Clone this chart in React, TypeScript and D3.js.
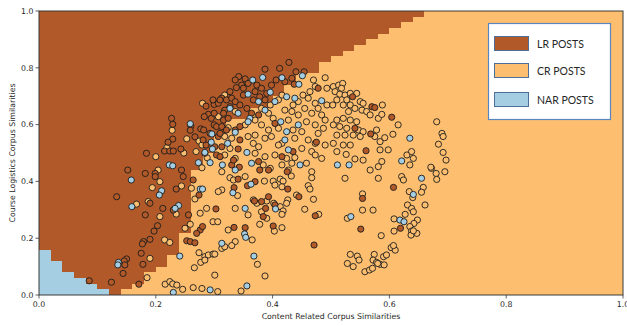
import * as d3 from "d3";

const width = 627;
const height = 326;
const margin = { left: 39, right: 4, top: 11, bottom: 31 };

const xTicks = [0, 0.2, 0.4, 0.6, 0.8, 1.0];
const yTicks = [0, 0.2, 0.4, 0.6, 0.8, 1.0];

const classNames = ["LR POSTS", "CR POSTS", "NAR POSTS"];
const classColors = ["#b15928", "#fdbf6f", "#a6cee3"];

// decision surface, one row every 0.02 on y
const gridStep = 0.02;
const narEdge = [
  0.12, 0.1, 0.08, 0.06, 0.04, 0.04, 0.02, 0.02, 0, 0,
  0, 0, 0, 0, 0, 0, 0, 0, 0, 0,
  0, 0, 0, 0, 0, 0, 0, 0, 0, 0,
  0, 0, 0, 0, 0, 0, 0, 0, 0, 0,
  0, 0, 0, 0, 0, 0, 0, 0, 0, 0,
];
const lrEdge = [
  0.14, 0.16, 0.18, 0.18, 0.2, 0.22, 0.22, 0.24, 0.24, 0.24,
  0.24, 0.26, 0.26, 0.26, 0.26, 0.26, 0.26, 0.26, 0.26, 0.26,
  0.26, 0.26, 0.28, 0.28, 0.28, 0.3, 0.3, 0.3, 0.32, 0.32,
  0.32, 0.36, 0.36, 0.4, 0.4, 0.42, 0.42, 0.44, 0.44, 0.48,
  0.48, 0.5, 0.52, 0.54, 0.56, 0.58, 0.6, 0.62, 0.64, 0.66,
];

const lrPoints: [number, number][] = [
  [0.286,0.665],[0.3,0.671],[0.227,0.622],[0.229,0.601],[0.26,0.596],[0.259,0.58],[0.229,0.549],[0.221,0.538],
  [0.215,0.507],[0.224,0.507],[0.23,0.507],[0.184,0.499],[0.243,0.514],[0.267,0.557],[0.277,0.585],[0.282,0.581],
  [0.286,0.528],[0.199,0.428],[0.182,0.428],[0.152,0.44],[0.244,0.44],[0.29,0.636],[0.295,0.622],[0.3,0.64],
  [0.283,0.628],[0.3,0.599],
  [0.428,0.819],[0.387,0.795],[0.412,0.798],[0.44,0.786],[0.454,0.786],[0.342,0.769],[0.336,0.757],[0.353,0.761],
  [0.358,0.745],[0.373,0.739],[0.347,0.739],[0.338,0.73],[0.406,0.757],[0.421,0.751],[0.437,0.742],[0.478,0.728],
  [0.313,0.693],[0.321,0.687],[0.33,0.693],[0.307,0.675],[0.37,0.716],[0.387,0.687],[0.344,0.669],[0.356,0.657],
  [0.364,0.64],[0.316,0.616],[0.324,0.622],[0.404,0.604],[0.304,0.593],[0.313,0.593],[0.336,0.581],[0.307,0.558],
  [0.344,0.546],[0.475,0.538],[0.313,0.522],[0.341,0.514],[0.435,0.505],[0.304,0.493],[0.416,0.487],[0.33,0.458],
  [0.376,0.47],[0.378,0.44],[0.327,0.716],[0.35,0.704],[0.381,0.728],[0.336,0.681],[0.318,0.651],[0.376,0.634],
  [0.35,0.728],[0.31,0.687],[0.298,0.687],[0.316,0.64],[0.327,0.663],[0.367,0.687],[0.378,0.698],[0.39,0.71],
  [0.398,0.739],[0.433,0.763],[0.31,0.569],[0.293,0.569],[0.321,0.581],[0.344,0.593],[0.281,0.546],[0.301,0.522],
  [0.284,0.499],[0.31,0.487],[0.333,0.475],[0.343,0.45],[0.393,0.44],[0.425,0.434],
  [0.537,0.698],[0.57,0.663],[0.575,0.66],[0.604,0.626],[0.541,0.587],[0.568,0.567],[0.56,0.508],
  [0.133,0.346],[0.235,0.373],[0.247,0.417],[0.199,0.417],[0.264,0.405],[0.274,0.352],[0.19,0.323],[0.212,0.305],
  [0.23,0.299],[0.182,0.282],[0.256,0.282],[0.203,0.244],[0.197,0.225],[0.276,0.229],[0.27,0.217],[0.28,0.241],
  [0.179,0.188],[0.177,0.18],[0.19,0.196],[0.253,0.191],[0.259,0.188],[0.267,0.184],[0.175,0.147],[0.15,0.127],
  [0.146,0.12],[0.147,0.106],[0.178,0.108],[0.144,0.076],[0.124,0.045],[0.171,0.038],[0.086,0.05],
  [0.37,0.399],[0.357,0.385],[0.426,0.373],[0.445,0.346],[0.334,0.378],[0.369,0.331],[0.381,0.329],[0.393,0.346],
  [0.404,0.317],[0.388,0.305],[0.384,0.276],[0.473,0.279],[0.303,0.303],[0.334,0.238],[0.353,0.237],[0.401,0.243],
  [0.471,0.176],[0.341,0.408],
  [0.607,0.379],[0.554,0.34],[0.551,0.232],[0.619,0.235],
];

const crPoints: [number, number][] = [
  [0.28,0.675],[0.228,0.58],[0.219,0.519],[0.2,0.487],[0.248,0.5],[0.253,0.55],[0.274,0.542],[0.279,0.528],
  [0.269,0.505],[0.288,0.483],[0.279,0.448],[0.204,0.44],
  [0.47,0.757],[0.473,0.734],[0.49,0.765],[0.493,0.728],[0.318,0.704],[0.416,0.704],[0.41,0.687],[0.444,0.681],
  [0.461,0.693],[0.473,0.675],[0.493,0.669],[0.455,0.657],[0.336,0.646],[0.381,0.657],[0.393,0.64],[0.421,0.651],
  [0.433,0.646],[0.444,0.634],[0.467,0.64],[0.484,0.634],[0.49,0.616],[0.307,0.628],[0.37,0.616],[0.401,0.622],
  [0.427,0.616],[0.458,0.61],[0.473,0.599],[0.487,0.587],[0.324,0.589],[0.353,0.599],[0.381,0.599],[0.393,0.581],
  [0.41,0.587],[0.435,0.581],[0.45,0.575],[0.478,0.569],[0.318,0.558],[0.33,0.552],[0.358,0.558],[0.37,0.563],
  [0.387,0.552],[0.398,0.558],[0.416,0.534],[0.438,0.552],[0.461,0.546],[0.473,0.534],[0.49,0.528],[0.327,0.516],
  [0.367,0.534],[0.376,0.522],[0.41,0.528],[0.45,0.516],[0.467,0.505],[0.37,0.499],[0.318,0.493],[0.336,0.481],
  [0.387,0.487],[0.404,0.493],[0.424,0.481],[0.438,0.484],[0.473,0.493],[0.484,0.481],[0.384,0.458],[0.416,0.458],
  [0.433,0.464],[0.458,0.464],[0.313,0.434],[0.396,0.446],[0.427,0.44],[0.467,0.434],[0.396,0.669],[0.435,0.669],
  [0.478,0.657],[0.452,0.704],[0.464,0.716],
  [0.504,0.734],[0.513,0.739],[0.52,0.745],[0.518,0.728],[0.507,0.716],[0.515,0.707],[0.524,0.704],[0.533,0.71],
  [0.544,0.71],[0.527,0.687],[0.51,0.687],[0.503,0.669],[0.521,0.669],[0.533,0.669],[0.55,0.681],[0.555,0.675],
  [0.541,0.657],[0.53,0.646],[0.553,0.651],[0.561,0.646],[0.567,0.634],[0.581,0.622],[0.588,0.669],[0.587,0.636],
  [0.51,0.616],[0.521,0.622],[0.533,0.616],[0.544,0.61],[0.504,0.599],[0.515,0.593],[0.527,0.587],[0.547,0.581],
  [0.555,0.575],[0.51,0.563],[0.524,0.563],[0.538,0.563],[0.55,0.558],[0.578,0.581],[0.575,0.558],[0.584,0.54],
  [0.592,0.554],[0.606,0.566],[0.615,0.599],[0.504,0.534],[0.521,0.528],[0.533,0.528],[0.51,0.505],[0.526,0.495],
  [0.541,0.479],[0.555,0.475],[0.584,0.511],[0.598,0.511],[0.587,0.47],[0.567,0.44],[0.581,0.452],[0.63,0.493],
  [0.638,0.505],[0.641,0.481],[0.635,0.458],[0.681,0.61],[0.69,0.569],[0.692,0.558],[0.684,0.531],[0.692,0.502],
  [0.697,0.475],[0.672,0.446],[0.695,0.434],[0.671,0.45],[0.68,0.428],
  [0.194,0.378],[0.244,0.384],[0.207,0.399],[0.261,0.376],[0.267,0.338],[0.167,0.32],[0.187,0.329],[0.235,0.285],
  [0.207,0.276],[0.25,0.235],[0.259,0.249],[0.276,0.288],[0.287,0.305],[0.298,0.258],[0.215,0.194],[0.224,0.185],
  [0.19,0.129],[0.185,0.061],[0.216,0.038],[0.224,0.047],[0.229,0.039],[0.236,0.035],[0.246,0.02],[0.274,0.149],
  [0.284,0.135],[0.29,0.141],[0.298,0.144],[0.277,0.115],[0.284,0.123],[0.266,0.096],[0.264,0.026],[0.279,0.023],
  [0.327,0.413],[0.333,0.405],[0.353,0.417],[0.313,0.37],[0.307,0.364],[0.386,0.401],[0.401,0.401],[0.413,0.408],
  [0.418,0.401],[0.432,0.419],[0.467,0.413],[0.404,0.387],[0.416,0.381],[0.461,0.385],[0.464,0.373],[0.441,0.352],
  [0.47,0.337],[0.34,0.35],[0.367,0.335],[0.373,0.323],[0.39,0.331],[0.402,0.323],[0.413,0.311],[0.418,0.296],
  [0.426,0.335],[0.424,0.323],[0.381,0.293],[0.39,0.27],[0.416,0.284],[0.455,0.302],[0.479,0.284],[0.336,0.305],
  [0.358,0.282],[0.306,0.258],[0.378,0.249],[0.403,0.225],[0.416,0.237],[0.324,0.229],[0.336,0.188],[0.33,0.174],
  [0.313,0.164],[0.318,0.17],[0.301,0.144],[0.365,0.194],[0.374,0.108],[0.387,0.067],[0.346,0.014],[0.306,0.012],
  [0.301,0.07],
  [0.524,0.411],[0.581,0.411],[0.621,0.417],[0.624,0.405],[0.681,0.407],[0.658,0.379],[0.655,0.362],[0.634,0.364],
  [0.64,0.343],[0.661,0.317],[0.631,0.317],[0.638,0.305],[0.641,0.293],[0.554,0.356],[0.554,0.299],[0.572,0.299],
  [0.528,0.27],[0.608,0.268],[0.627,0.284],[0.648,0.264],[0.642,0.252],[0.635,0.241],[0.638,0.225],[0.647,0.217],
  [0.637,0.211],[0.608,0.225],[0.586,0.209],[0.603,0.167],[0.61,0.158],[0.607,0.174],[0.533,0.143],[0.545,0.137],
  [0.548,0.123],[0.528,0.111],[0.538,0.1],[0.574,0.143],[0.572,0.123],[0.59,0.135],[0.595,0.141],[0.578,0.115],
  [0.584,0.108],[0.591,0.106],[0.558,0.082],[0.566,0.088],[0.571,0.094],[0.58,0.111],[0.641,0.226],
];

const narPoints: [number, number][] = [
  [0.259,0.603],[0.296,0.567],[0.295,0.538],[0.297,0.514],[0.284,0.502],[0.273,0.466],[0.293,0.466],[0.223,0.458],
  [0.229,0.455],
  [0.451,0.772],[0.416,0.765],[0.366,0.757],[0.383,0.766],[0.445,0.742],[0.358,0.707],[0.396,0.714],[0.424,0.698],
  [0.438,0.693],[0.376,0.681],[0.404,0.681],[0.484,0.684],[0.327,0.657],[0.341,0.64],[0.387,0.651],[0.361,0.622],
  [0.358,0.61],[0.414,0.61],[0.444,0.599],[0.336,0.573],[0.424,0.575],[0.323,0.534],[0.421,0.546],[0.427,0.511],
  [0.356,0.502],[0.314,0.458],[0.364,0.464],[0.447,0.458],[0.336,0.44],
  [0.635,0.552],[0.621,0.472],[0.531,0.458],[0.511,0.458],
  [0.158,0.405],[0.21,0.367],[0.206,0.352],[0.276,0.373],[0.28,0.373],[0.159,0.311],[0.239,0.315],[0.233,0.305],
  [0.241,0.137],[0.136,0.115],[0.135,0.106],[0.23,0.009],[0.293,0.018],
  [0.363,0.39],[0.332,0.36],[0.405,0.303],[0.353,0.305],[0.352,0.215],[0.354,0.203],[0.313,0.182],[0.368,0.137],
  [0.356,0.032],
  [0.655,0.411],[0.641,0.354],[0.534,0.276],[0.618,0.264],[0.625,0.258],
];

const x = d3.scaleLinear().domain([0, 1]).range([margin.left, width - margin.right]);
const y = d3.scaleLinear().domain([0, 1]).range([height - margin.bottom, margin.top]);

const rows = d3.range(lrEdge.length);
const tickFont = "DejaVu Sans, sans-serif";

export default function App() {
  const x0 = x(0);
  const x1 = x(1);
  const y0 = y(0);
  const y1 = y(1);

  const scatter = [
    ...crPoints.map((p) => ({ p, c: 1 })),
    ...lrPoints.map((p) => ({ p, c: 0 })),
    ...narPoints.map((p) => ({ p, c: 2 })),
  ];

  return (
    <svg
      width={width}
      height={height}
      style={{ position: "absolute", left: 0, top: 0, background: "#ffffff" }}
    >
      <defs>
        <clipPath id="plot-clip">
          <rect x={x0} y={y1} width={x1 - x0} height={y0 - y1} />
        </clipPath>
      </defs>

      {/* decision regions */}
      <g shapeRendering="crispEdges">
        <rect x={x0} y={y1} width={x1 - x0} height={y0 - y1} fill={classColors[1]} />
        {rows.map((j) => (
          <rect
            key={"lr" + j}
            x={x(narEdge[j])}
            y={y((j + 1) * gridStep)}
            width={x(lrEdge[j]) - x(narEdge[j])}
            height={y(j * gridStep) - y((j + 1) * gridStep)}
            fill={classColors[0]}
          />
        ))}
        {rows
          .filter((j) => narEdge[j] > 0)
          .map((j) => (
            <rect
              key={"nar" + j}
              x={x(0)}
              y={y((j + 1) * gridStep)}
              width={x(narEdge[j]) - x(0)}
              height={y(j * gridStep) - y((j + 1) * gridStep)}
              fill={classColors[2]}
            />
          ))}
      </g>

      {/* points */}
      <g clipPath="url(#plot-clip)">
        {scatter.map((d, i) => (
          <circle
            key={i}
            cx={x(d.p[0])}
            cy={y(d.p[1])}
            r={3.1}
            fill={classColors[d.c]}
            stroke="#1c1c1c"
            strokeWidth={0.9}
          />
        ))}
      </g>

      {/* axes frame */}
      <rect
        x={x0}
        y={y1}
        width={x1 - x0}
        height={y0 - y1}
        fill="none"
        stroke="#3a3a3a"
        strokeWidth={1}
      />

      {xTicks.map((t) => (
        <g key={"xt" + t}>
          <line x1={x(t)} x2={x(t)} y1={y0} y2={y0 + 3.5} stroke="#3a3a3a" strokeWidth={0.8} />
          <text
            x={x(t)}
            y={y0 + 12}
            textAnchor="middle"
            fontFamily={tickFont}
            fontSize={7.8}
            fill="#262626"
          >
            {t.toFixed(1)}
          </text>
        </g>
      ))}
      {yTicks.map((t) => (
        <g key={"yt" + t}>
          <line x1={x0 - 3.5} x2={x0} y1={y(t)} y2={y(t)} stroke="#3a3a3a" strokeWidth={0.8} />
          <text
            x={x0 - 5.5}
            y={y(t) + 2.8}
            textAnchor="end"
            fontFamily={tickFont}
            fontSize={7.8}
            fill="#262626"
          >
            {t.toFixed(1)}
          </text>
        </g>
      ))}

      <text
        x={(x0 + x1) / 2}
        y={318.5}
        textAnchor="middle"
        fontFamily={tickFont}
        fontSize={7.8}
        fill="#262626"
      >
        Content Related Corpus Similarities
      </text>
      <text
        transform={`translate(14.5, ${(y0 + y1) / 2}) rotate(-90)`}
        textAnchor="middle"
        fontFamily={tickFont}
        fontSize={7.8}
        fill="#262626"
      >
        Course Logistics Corpus Similarities
      </text>

      {/* legend */}
      <g>
        <rect x={488.5} y={23.5} width={122} height={96} fill="#ffffff" stroke="#5a86c0" strokeWidth={1.2} />
        {classNames.map((name, i) => {
          const top = [36, 63, 92][i];
          return (
            <g key={name}>
              <rect
                x={494.5}
                y={top + 0.5}
                width={34}
                height={14}
                fill={classColors[i]}
                stroke="#4b6f98"
                strokeWidth={1}
              />
              <text
                x={537}
                y={top + 11.5}
                fontFamily="Lato, 'Open Sans', sans-serif"
                fontSize={10.5}
                fill="#262626"
              >
                {name}
              </text>
            </g>
          );
        })}
      </g>
    </svg>
  );
}
